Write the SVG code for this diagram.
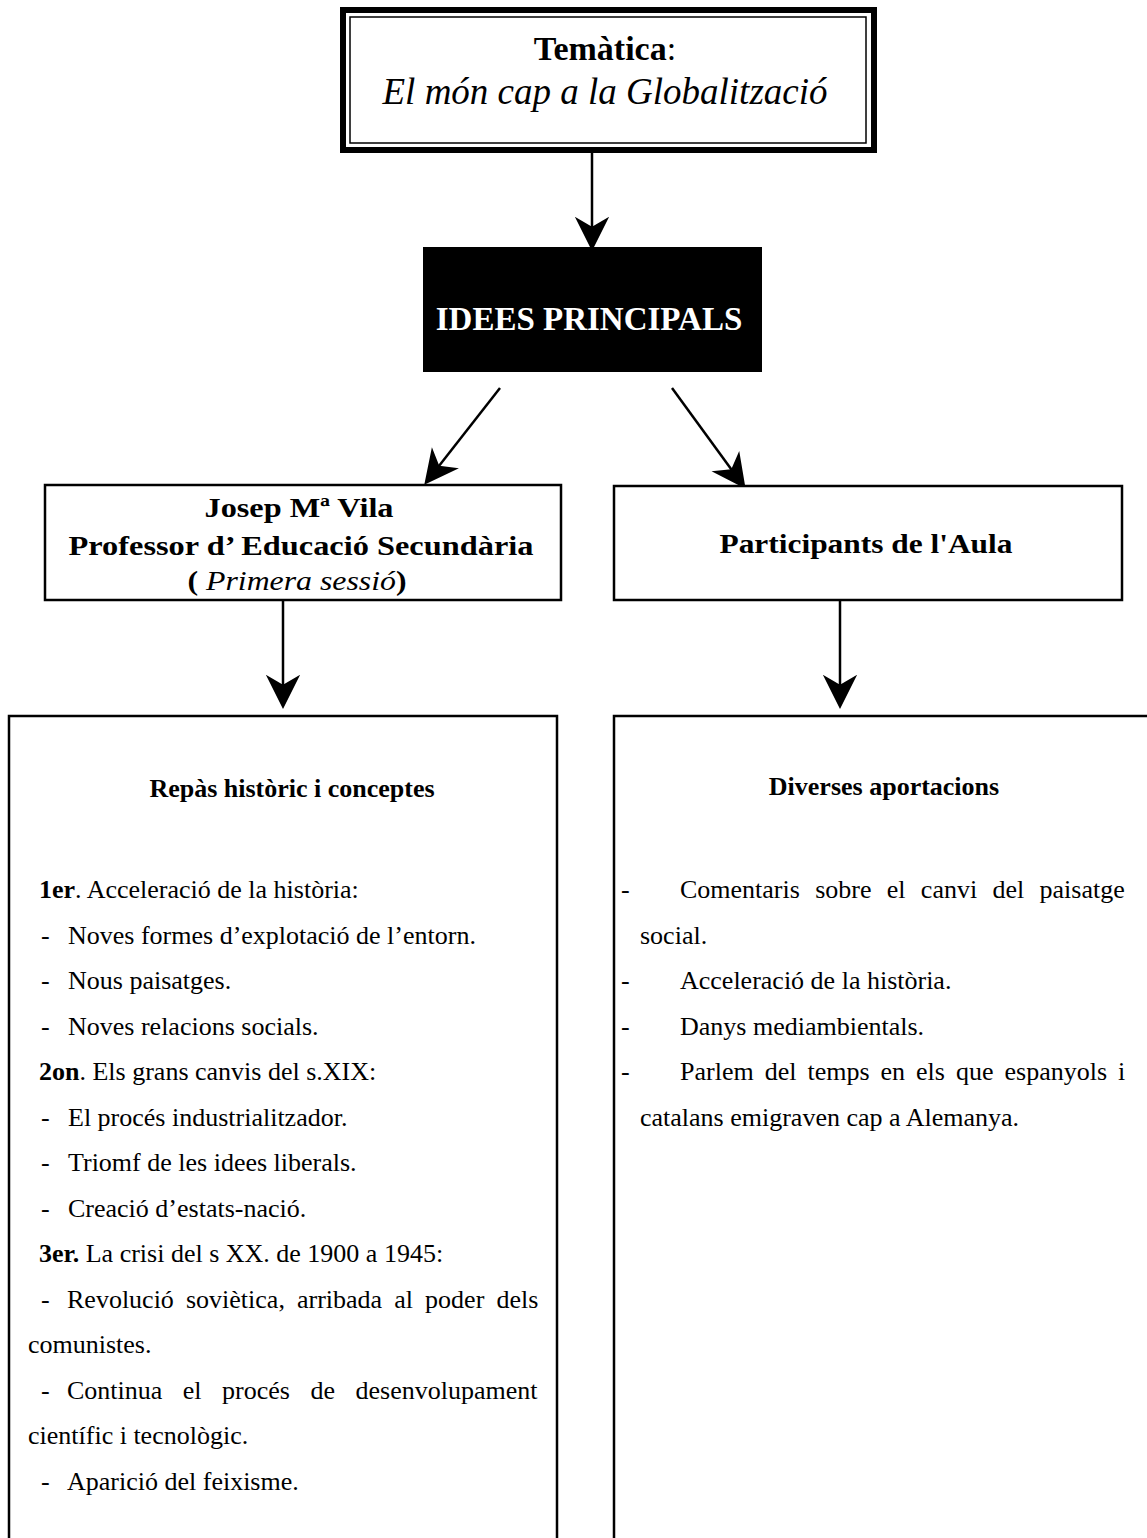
<svg xmlns="http://www.w3.org/2000/svg" width="1147" height="1538" viewBox="0 0 1147 1538">
<defs>
<style>
text{font-family:"Liberation Serif","Times New Roman",serif;fill:#000}
.box{fill:#fff;stroke:#000;stroke-width:2.5}
.b{font-weight:bold}
.i{font-style:italic}
.body{font-size:26px}
.hd{font-size:28px;font-weight:bold}
.conn{stroke:#000;stroke-width:2.5;fill:none;marker-end:url(#ah)}
</style>
<marker id="ah" markerUnits="userSpaceOnUse" markerWidth="40" markerHeight="40" viewBox="-12 -14 28 28" refX="0" refY="0" orient="auto">
<path d="M14,0 L-10,-12 L-3,0 L-10,12 Z" fill="#000"/>
</marker>
</defs>
<rect width="1147" height="1538" fill="#fff"/>

<g id="connectors">
<line class="conn" x1="592" y1="153" x2="592" y2="231"/>
<line class="conn" x1="500" y1="388" x2="436.6" y2="469"/>
<line class="conn" x1="672" y1="388" x2="733.8" y2="472.7"/>
<line class="conn" x1="283" y1="601" x2="283" y2="689"/>
<line class="conn" x1="840" y1="601" x2="840" y2="689"/>
</g>

<g id="node-tematica">
<rect x="343" y="10" width="531" height="140" fill="#fff" stroke="#000" stroke-width="6"/>
<rect x="350" y="17" width="516" height="126" fill="none" stroke="#000" stroke-width="1.5"/>
<text x="605" y="60" text-anchor="middle" font-size="34"><tspan class="b">Temàtica</tspan>:</text>
<text x="605" y="104" text-anchor="middle" font-size="37" class="i">El món cap a la Globalització</text>
</g>

<g id="node-idees">
<rect x="423" y="247" width="339" height="125" fill="#000"/>
<text x="589" y="330" text-anchor="middle" font-size="33" class="b" style="fill:#fff">IDEES PRINCIPALS</text>
</g>

<g id="node-josep">
<rect class="box" x="45" y="485" width="516" height="115"/>
<text x="299" y="517" text-anchor="middle" class="hd" textLength="189" lengthAdjust="spacingAndGlyphs">Josep Mª Vila</text>
<text x="301" y="555" text-anchor="middle" class="hd" textLength="465" lengthAdjust="spacingAndGlyphs">Professor d’ Educació Secundària</text>
<text x="297" y="590" text-anchor="middle" font-size="28" textLength="219" lengthAdjust="spacingAndGlyphs"><tspan class="b">( </tspan><tspan class="i">Primera sessió</tspan><tspan class="b">)</tspan></text>
</g>

<g id="node-participants">
<rect class="box" x="614" y="486" width="508" height="114"/>
<text x="866" y="553" text-anchor="middle" class="hd" textLength="293" lengthAdjust="spacingAndGlyphs">Participants de l'Aula</text>
</g>

<g id="node-repas">
<rect class="box" x="9" y="716" width="548" height="900"/>
<text x="292" y="797" text-anchor="middle" class="body b">Repàs històric i conceptes</text>
<g class="body">
<text x="39" y="898"><tspan class="b">1er</tspan>. Acceleració de la història:</text>
<text x="41" y="943.5">-<tspan x="68">Noves formes d’explotació de l’entorn.</tspan></text>
<text x="41" y="989">-<tspan x="68">Nous paisatges.</tspan></text>
<text x="41" y="1034.5">-<tspan x="68">Noves relacions socials.</tspan></text>
<text x="39" y="1080"><tspan class="b">2on</tspan>. Els grans canvis del s.XIX:</text>
<text x="41" y="1125.5">-<tspan x="68">El procés industrialitzador.</tspan></text>
<text x="41" y="1171">-<tspan x="68">Triomf de les idees liberals.</tspan></text>
<text x="41" y="1216.5">-<tspan x="68">Creació d’estats-nació.</tspan></text>
<text x="39" y="1262"><tspan class="b">3er.</tspan> La crisi del s XX. de 1900 a 1945:</text>
<text x="41" y="1307.5">-<tspan x="67" word-spacing="5.6">Revolució soviètica, arribada al poder dels</tspan></text>
<text x="28" y="1353">comunistes.</text>
<text x="41" y="1398.5">-<tspan x="67" word-spacing="14">Continua el procés de desenvolupament</tspan></text>
<text x="28" y="1444">científic i tecnològic.</text>
<text x="41" y="1489.5">-<tspan x="67">Aparició del feixisme.</tspan></text>
</g>
</g>

<g id="node-diverses">
<rect class="box" x="614" y="716" width="560" height="900"/>
<text x="884" y="795" text-anchor="middle" class="body b">Diverses aportacions</text>
<g class="body">
<text x="621" y="898">-<tspan x="680" word-spacing="8.8">Comentaris sobre el canvi del paisatge</tspan></text>
<text x="640" y="943.5">social.</text>
<text x="621" y="989">-<tspan x="680">Acceleració de la història.</tspan></text>
<text x="621" y="1034.5">-<tspan x="680">Danys mediambientals.</tspan></text>
<text x="621" y="1080">-<tspan x="680" word-spacing="4.5">Parlem del temps en els que espanyols i</tspan></text>
<text x="640" y="1125.5">catalans emigraven cap a Alemanya.</text>
</g>
</g>
</svg>
